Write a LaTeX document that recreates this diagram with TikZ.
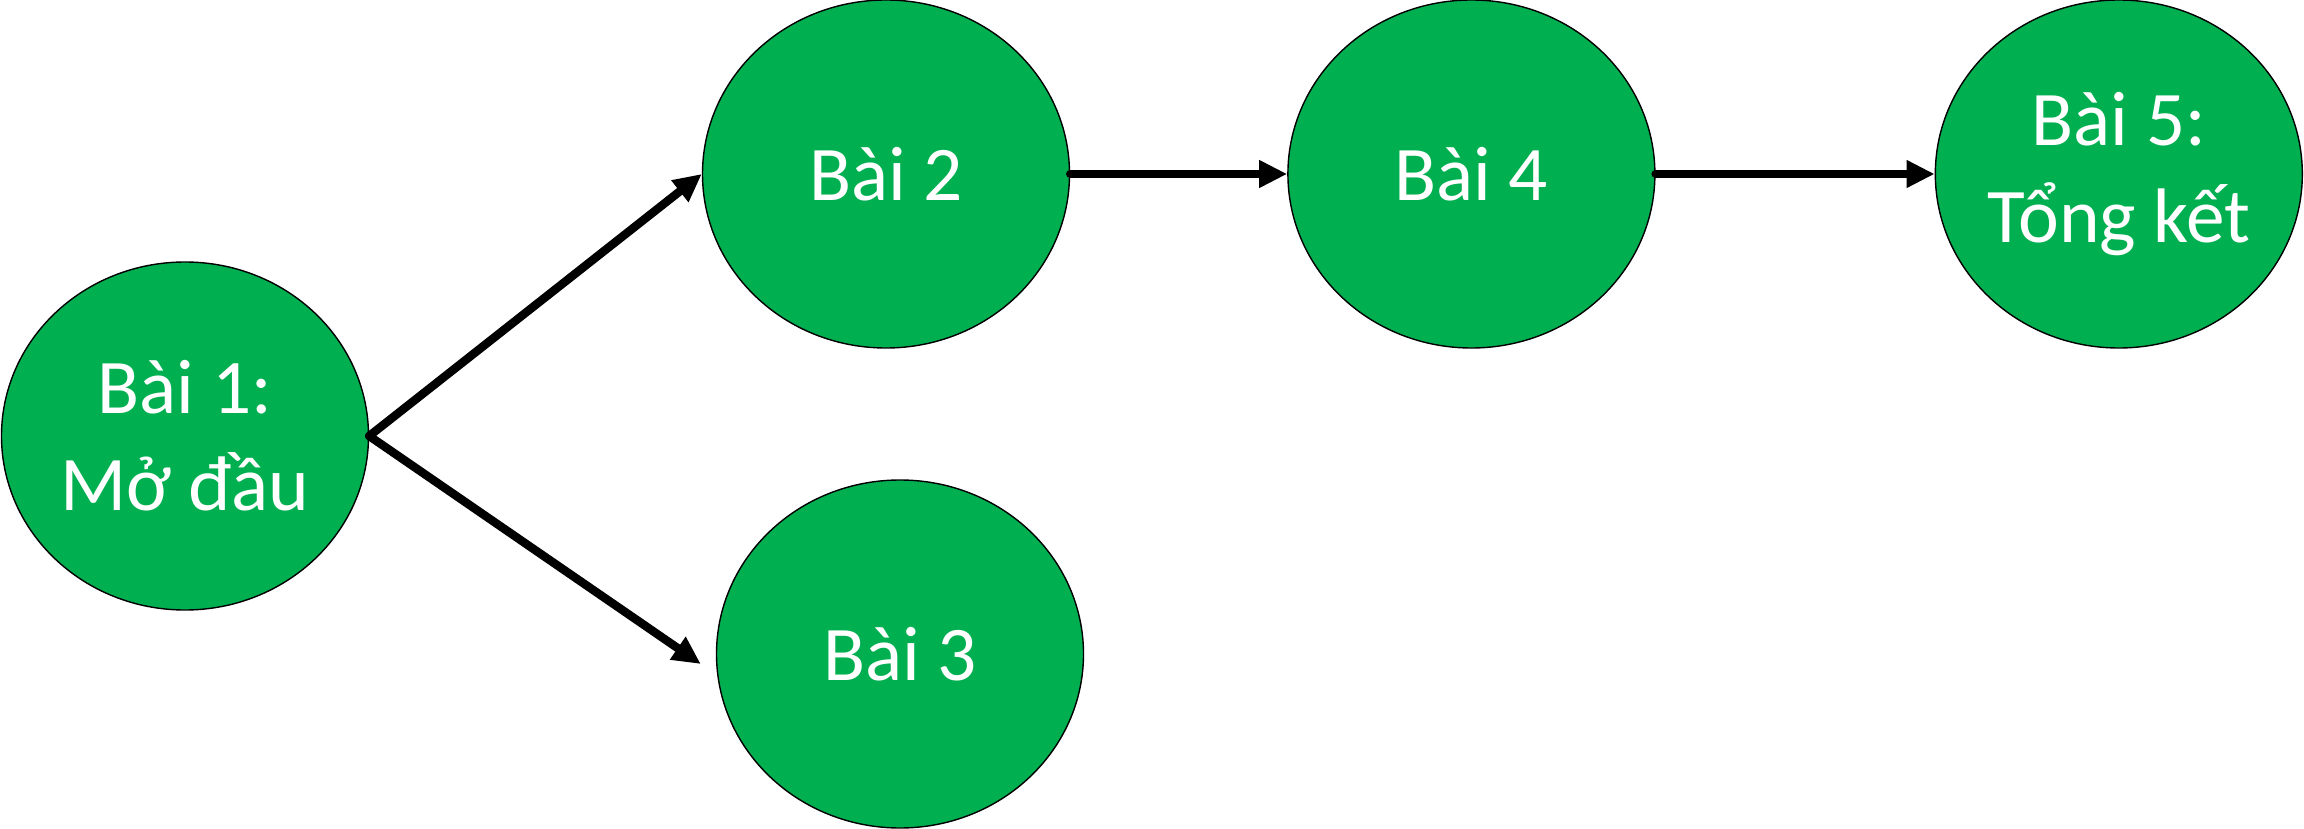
\documentclass[tikz,border=0pt]{standalone}
\usepackage{fontspec}
\setmainfont{Carlito}
\usetikzlibrary{arrows.meta,positioning,shapes.geometric}
\definecolor{baigreen}{RGB}{0,176,80}
\begin{document}
\begin{tikzpicture}[
   x=1mm, y=1mm,
   font=\fontsize{22}{27.5}\selectfont, node distance=20mm,
   bai/.style={ellipse, draw=black, line width=0.4pt, fill=baigreen, text=white, align=center,
               minimum width=36.7mm, minimum height=34.8mm, inner xsep=-3mm, inner ysep=0pt},
   arr/.style={-{Triangle[length=2.8mm, width=2.6mm]}, line width=2.4pt, line cap=round}]
   \useasboundingbox (0,0) rectangle (230.4,-82.9);
   \node[bai] (b1) at (18.5,-43.6) {Bài 1:\\Mở đầu};
   \node[bai] (b2) at (88.6,-17.4) {Bài 2};
   \node[bai] (b3) at (90.0,-65.4) {Bài 3};
   \node[bai, right=21.7mm of b2] (b4) {Bài 4};
   \node[bai, right=27.9mm of b4] (b5) {Bài 5:\\Tổng kết};
   \draw[arr] (b1.east) -- (b2.west);
   \draw[arr] (b1.east) -- ([xshift=-1.5mm,yshift=-1mm]b3.west);
   \draw[arr] (b2.east) -- (b4.west);
   \draw[arr] (b4.east) -- (b5.west);
\end{tikzpicture}
\end{document}
